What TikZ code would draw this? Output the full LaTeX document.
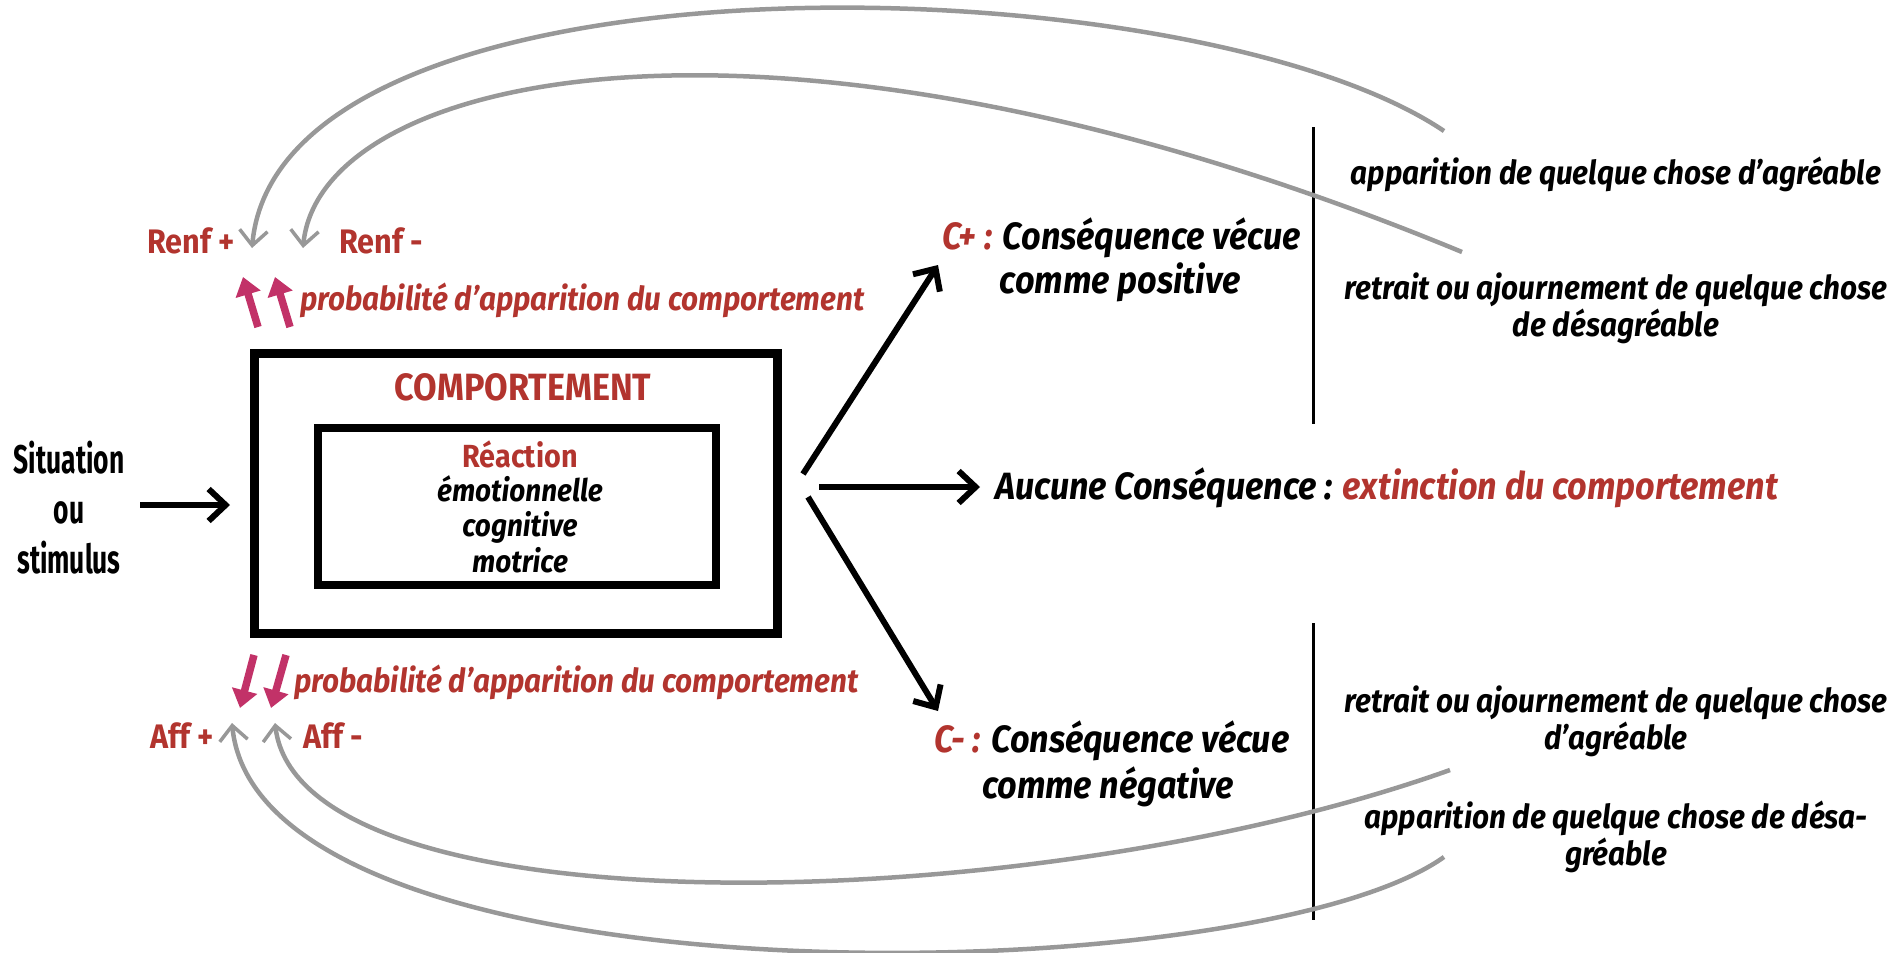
\documentclass[tikz,border=0pt]{standalone}
\usepackage{fontspec}
\setmainfont{Fira Sans}[FakeStretch=0.9]
\newfontfamily\cond{Fira Sans}[FakeStretch=0.66]
\usepackage{xcolor}
\usetikzlibrary{arrows.meta,positioning}
\definecolor{rouge}{RGB}{178,52,46}
\definecolor{rose}{RGB}{194,50,104}
\definecolor{gris}{RGB}{152,152,152}

\begin{document}
\begin{tikzpicture}[x=1pt, y=-1pt, >={Straight Barb[length=17pt,width=32pt,line width=6pt]}]
        \tikzstyle{boite}=[draw, inner sep=0pt]
        \tikzstyle{titre}=[font=\fontsize{38}{44}\selectfont\bfseries, text=rouge, inner sep=0pt]
        \tikzstyle{lbl}=[font=\fontsize{38}{44}\selectfont\bfseries\itshape, align=center, inner sep=0pt]
        \tikzstyle{droite}=[font=\fontsize{33}{37}\selectfont\bfseries\itshape, align=center, inner sep=0pt]
        \tikzstyle{renf}=[font=\fontsize{34}{40}\selectfont\bfseries, text=rouge, inner sep=0pt]
        \tikzstyle{proba}=[font=\fontsize{33}{40}\selectfont\bfseries\itshape, text=rouge, anchor=west, inner sep=0pt]
        \tikzstyle{retour}=[draw=gris, line width=4.5pt, ->, >={Straight Barb[length=15pt,width=28pt,line width=3.5pt]}]
        \tikzstyle{fleche}=[draw, line width=6pt, ->]
        \tikzstyle{rosef}=[draw=rose, line width=7.5pt, -{Triangle[length=18pt,width=25pt]}]
        \useasboundingbox (0,0) rectangle (1898,953);

        % situation et comportement
        \node[font=\cond\fontsize{40}{50}\selectfont\bfseries, align=center, inner sep=0pt] (sit) at (69,508) {Situation\\ou\\stimulus};
        \node[boite, line width=9pt, minimum width=523pt, minimum height=280pt] (comp) at (515.5,493) {};
        \node[boite, line width=8pt, minimum width=398pt, minimum height=157pt] (reac) at (516.5,506) {};
        \node[titre] (ctitre) at (523,387) {COMPORTEMENT};
        \node[font=\fontsize{32}{35}\selectfont\bfseries, text=rouge, inner sep=0pt] (rtitre) at (520,454) {Réaction};
        \node[font=\fontsize{31}{35.5}\selectfont\bfseries\itshape, align=center, inner sep=0pt] (rtypes) at (520,524) {émotionnelle\\cognitive\\motrice};
        \coordinate (sitdeb) at (140,505);
        \coordinate (sitfin) at (230,505);
        \draw[fleche] (sitdeb) -- (sitfin);

        % renforcement et affaiblissement
        \node[renf] (renfp) at (191,241) {Renf +};
        \node[renf] (renfm) at (381,241) {Renf -};
        \node[renf] (affp) at (182,736) {Aff +};
        \node[renf] (affm) at (333,736) {Aff -};
        \node[proba] (probh) at (300,300) {probabilité d’apparition du comportement};
        \node[proba] (probb) at (294,682) {probabilité d’apparition du comportement};
        \draw[rosef] (258,327) -- (243,277);
        \draw[rosef] (290,327) -- (275,277);
        \draw[rosef] (254,655) -- (240,708);
        \draw[rosef] (286,655) -- (271,708);

        % consequences
        \node[lbl, anchor=west] (cplus) at (942,238) {\textcolor{rouge}{C+ :} Conséquence vécue};
        \node[lbl] (cplus2) at (1120,282) {comme positive};
        \node[lbl, anchor=west] (cnul) at (995,488) {Aucune Conséquence : \textcolor{rouge}{extinction du comportement}};
        \node[lbl, anchor=west] (cmoins) at (934,741) {\textcolor{rouge}{C- :} Conséquence vécue};
        \node[lbl] (cmoins2) at (1108,787) {comme négative};
        \coordinate (hubh) at (803,474);
        \coordinate (hubm) at (819,487);
        \coordinate (hubb) at (808,497);
        \draw[fleche] (hubh) -- (938,265);
        \draw[fleche] (hubm) -- (980,487);
        \draw[fleche] (hubb) -- (938,711);

        % separateurs
        \draw[line width=3pt] (1313,127) -- (1313,424);
        \draw[line width=3pt] (1313,623) -- (1313,920);

        % textes de droite
        \node[droite] (apph) at (1616,174) {apparition de quelque chose d’agréable};
        \node[droite] (reth) at (1616,308) {retrait ou ajournement de quelque chose\\de désagréable};
        \node[droite] (retb) at (1616,721) {retrait ou ajournement de quelque chose\\d’agréable};
        \node[droite] (appb) at (1616,837) {apparition de quelque chose de désa-\\gréable};

        % boucles de retour
        \coordinate (r1) at (1444,131);
        \coordinate (r2) at (1462,252);
        \coordinate (r3) at (1450,770);
        \coordinate (r4) at (1444,857);
        \draw[retour] (r1) .. controls (1190,-40) and (280,-60) .. (252,248);
        \draw[retour] (r2) .. controls (780,-30) and (320,70) .. (303,248);
        \draw[retour] (r3) .. controls (1030,920) and (300,934) .. (275,723);
        \draw[retour] (r4) .. controls (1250,995) and (260,1010) .. (232,723);
\end{tikzpicture}
\end{document}
